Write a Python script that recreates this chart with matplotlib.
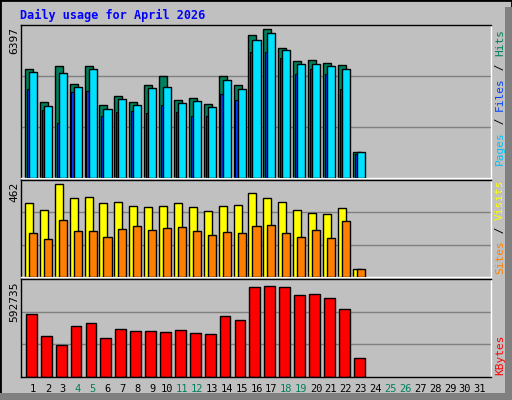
import numpy as np
import matplotlib.pyplot as plt
from matplotlib.patches import Rectangle

days = np.arange(1, 32)
hits = [4575, 3198, 4700, 3943, 4700, 3059, 3438, 3185, 3901, 4280, 3270, 3354, 3101, 4280, 3901,
        5963, 6216, 5416, 4911, 4953, 4827, 4743, 1082]
files = [4448, 3017, 4406, 3817, 4575, 2891, 3312, 3059, 3775, 3817, 3143, 3228, 2975, 4112, 3733,
         5753, 6048, 5332, 4785, 4785, 4701, 4575, 1082]
pages = [3733, 2849, 2302, 3607, 3649, 2597, 2765, 2807, 2723, 3059, 2765, 2597, 2597, 3522, 3270,
         5248, 5248, 5037, 4364, 4575, 4364, 3733, 1022]
visits = [352, 318, 443, 376, 381, 352, 357, 337, 333, 337, 352, 333, 313, 337, 342,
          400, 376, 357, 318, 304, 299, 328, 40]
sites = [208, 179, 270, 217, 217, 189, 227, 241, 222, 232, 237, 217, 198, 213, 208,
         241, 246, 208, 189, 222, 184, 265, 40]
kbytes = [383000, 250000, 196000, 310000, 329000, 238000, 292000, 280000, 280000, 274000, 286000,
          268000, 262000, 371000, 347000, 546000, 552000, 546000, 498000, 504000, 480000, 413000, 117000]
weekend = [4, 5, 11, 12, 18, 19, 25, 26]
max_hits, max_visits, max_kb = 6397, 462, 592735

BG = '#C0C0C0'
GREEN = '#00805C'
W, H = 512, 400
fig = plt.figure(figsize=(5.12, 4.0), dpi=100, facecolor=BG)
mono = 'DejaVu Sans Mono'

# outer bevel
fig.patches.append(Rectangle((0, 0), 1, 1, transform=fig.transFigure, fill=False,
                             edgecolor='black', lw=2))
fig.patches.append(Rectangle((505 / W, 0), 7 / W, 1 - 7 / H, transform=fig.transFigure,
                             color='#808080', lw=0))
fig.patches.append(Rectangle((0, 0), 1 - 7 / W, 7 / H, transform=fig.transFigure,
                             color='#808080', lw=0))

XMIN, XMAX = 0.195, 31.74


def panel(y0, y1):
    ax = fig.add_axes([21 / W, 1 - y1 / H, 470 / W, (y1 - y0) / H])
    ax.set_facecolor(BG)
    ax.set_xlim(XMIN, XMAX)
    ax.set_xticks([])
    ax.set_yticks([])
    for s in ax.spines.values():
        s.set_color('black')
        s.set_linewidth(1)
    ax.spines['bottom'].set_color('white')
    ax.spines['right'].set_color('white')
    return ax


n = len(hits)
x = days[:n]

ax1 = panel(25, 178)
ax1.set_ylim(0, max_hits)
for g in (1 / 3, 2 / 3):
    ax1.axhline(max_hits * g, color='#808080', lw=1, zorder=0)
ax1.bar(x - 0.54, hits, width=0.54, align='edge', color=GREEN, edgecolor='black', lw=1, zorder=2)
ax1.bar(x - 0.42, pages, width=0.16, align='edge', color='#0040FF', edgecolor='black', lw=0.8, zorder=3)
ax1.bar(x - 0.27, files, width=0.54, align='edge', color='#00E0FF', edgecolor='black', lw=1, zorder=4)

ax2 = panel(180, 277)
ax2.set_ylim(0, max_visits)
for g in (1 / 3, 2 / 3):
    ax2.axhline(max_visits * g, color='#808080', lw=1, zorder=0)
ax2.bar(x - 0.54, visits, width=0.54, align='edge', color='#FFFF00', edgecolor='black', lw=1, zorder=2)
ax2.bar(x - 0.27, sites, width=0.54, align='edge', color='#FF8000', edgecolor='black', lw=1, zorder=3)

ax3 = panel(279, 377)
ax3.set_ylim(0, max_kb)
for g in (1 / 3, 2 / 3):
    ax3.axhline(max_kb * g, color='#808080', lw=1, zorder=0)
ax3.bar(x - 0.47, kbytes, width=0.72, align='edge', color='#FF0000', edgecolor='black', lw=1, zorder=2)
ax3.spines['bottom'].set_color('black')
ax3.set_xticks(days)
ax3.set_xticklabels([str(d) for d in days], fontsize=7.5, family=mono)
ax3.tick_params(axis='x', length=0, pad=5)
for lbl, d in zip(ax3.get_xticklabels(), days):
    lbl.set_color(GREEN if d in weekend else 'black')

fig.text(20 / W, 1 - 15 / H, 'Daily usage for April 2026', color='#0000FF', fontsize=8.5,
         family=mono, fontweight='bold', va='center')

for y0, label in ((27, str(max_hits)), (182, str(max_visits)), (281, str(max_kb))):
    fig.text(14 / W, 1 - y0 / H, label, rotation=90, fontsize=8, family=mono,
             ha='center', va='top')


def side_label(parts, y_bottom):
    # parts read bottom to top
    y = y_bottom
    for txt, col in parts:
        fig.text(500 / W, 1 - y / H, txt, rotation=90, color=col, fontsize=8, family=mono,
                 ha='center', va='bottom')
        y -= 6.8 * len(txt)


side_label([('Pages', '#00C0FF'), (' / ', 'black'), ('Files', '#0040FF'),
            (' / ', 'black'), ('Hits', GREEN)], 165)
side_label([('Sites', '#FF8000'), (' / ', 'black'), ('Visits', '#FFFF00')], 274)
side_label([('KBytes', '#FF0000')], 375)

fig.savefig('out.png', dpi=100, facecolor=BG)
